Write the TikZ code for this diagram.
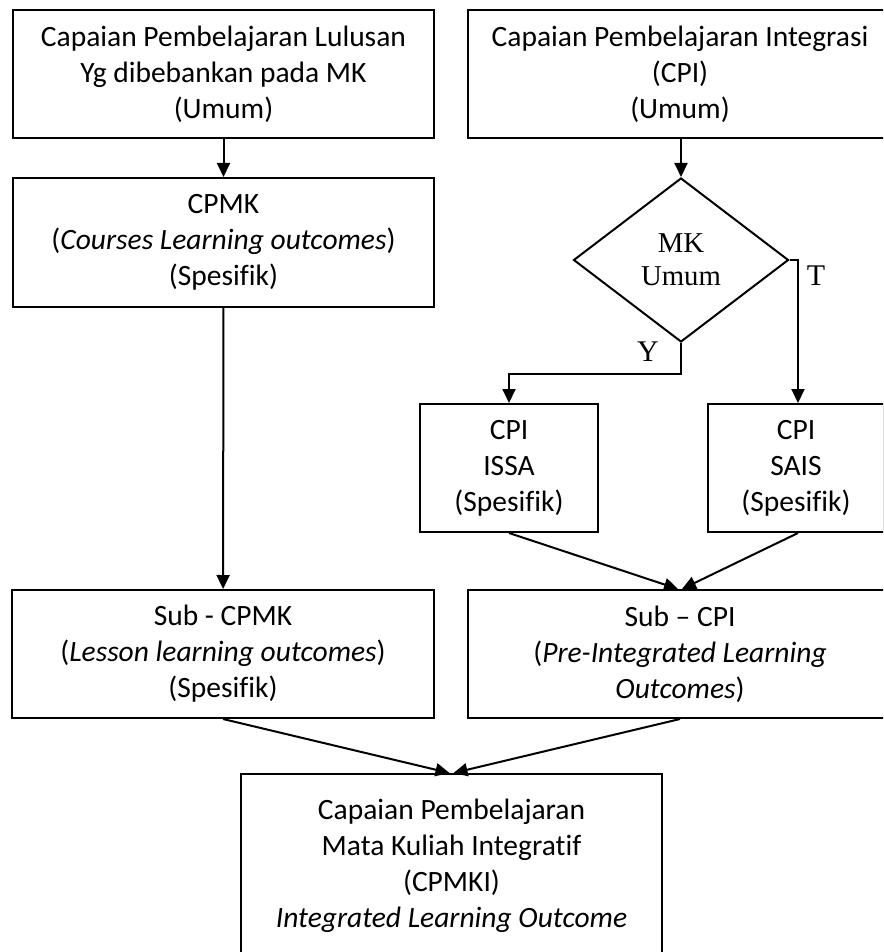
\documentclass[tikz,border=0pt]{standalone}
\usepackage{fontspec}
\setmainfont{Carlito}[Ligatures=NoCommon]
\newfontfamily\mkserif{Liberation Serif}
\usetikzlibrary{arrows.meta,shapes.geometric,calc}

\tikzset{
  box/.style={draw, line width=0.8pt, align=center, inner sep=0pt,
    minimum height=51.2pt, font=\fontsize{11.8}{14.4}\selectfont},
  wide/.style={box, minimum width=168.4pt},
  decide/.style={diamond, draw, line width=0.8pt, align=center, inner sep=0pt,
    minimum width=86pt, minimum height=65.6pt, font=\mkserif\fontsize{11.5}{13.2}\selectfont},
  flow/.style={-{Triangle[length=5.6pt,width=5.2pt]}, line width=0.8pt},
  yt/.style={font=\mkserif\fontsize{12}{14}\selectfont},
}

\begin{document}
\begin{tikzpicture}[x=0.4pt, y=-0.4pt]
  \clip (0,0) rectangle (883,952);
  % left column
  \node[wide] (cpl) at (223.5,74) {Capaian Pembelajaran Lulusan\\Yg dibebankan pada MK\\(Umum)};
  \node[wide, minimum height=51.6pt] (cpmk) at (223.5,242.5) {CPMK\\(\textit{Courses Learning outcomes})\\(Spesifik)};
  \node[wide] (subcpmk) at (223,654) {Sub - CPMK\\(\textit{Lesson learning outcomes})\\(Spesifik)};
  % right column
  \node[box, minimum width=169.6pt] (cpi) at (680,74) {Capaian Pembelajaran Integrasi\\(CPI)\\(Umum)};
  \node[decide] (mk) at (681,260) {MK\\Umum};
  \node[box, minimum width=71.2pt] (issa) at (509,468) {CPI\\ISSA\\(Spesifik)};
  \node[box, minimum width=70.4pt] (sais) at (796,468) {CPI\\SAIS\\(Spesifik)};
  \node[box, minimum width=169.6pt] (subcpi) at (680,654) {Sub -- CPI\\(\textit{Pre-Integrated Learning}\\\textit{Outcomes})};
  % bottom
  \node[wide, minimum height=73.6pt] (cpmki) at (451.5,866) {Capaian Pembelajaran\\Mata Kuliah Integratif\\(CPMKI)\\\textit{Integrated Learning Outcome}};
  % connectors
  \draw[flow] (cpl) -- (cpmk);
  \draw[flow] (cpmk) -- (subcpmk);
  \draw[flow] (mk.north |- cpi.south) -- (mk.north);
  \draw[flow] (mk.east) -| ($(sais.north)+(2,0)$);
  \draw[flow] (mk.south) -- ++(0,31) -| (issa.north);
  \draw[flow] (issa.south) -- ($(subcpi.north)+(-2,0)$);
  \draw[flow] ($(sais.south)+(2,0)$) -- ($(subcpi.north)+(2,0)$);
  \draw[flow] (subcpmk.south) -- ($(cpmki.north)+(-2,0)$);
  \draw[flow] (subcpi.south) -- ($(cpmki.north)+(2,0)$);
  \node[yt] (lt) at (816,276) {T};
  \node[yt] (ly) at (648,352) {Y};
\end{tikzpicture}
\end{document}
